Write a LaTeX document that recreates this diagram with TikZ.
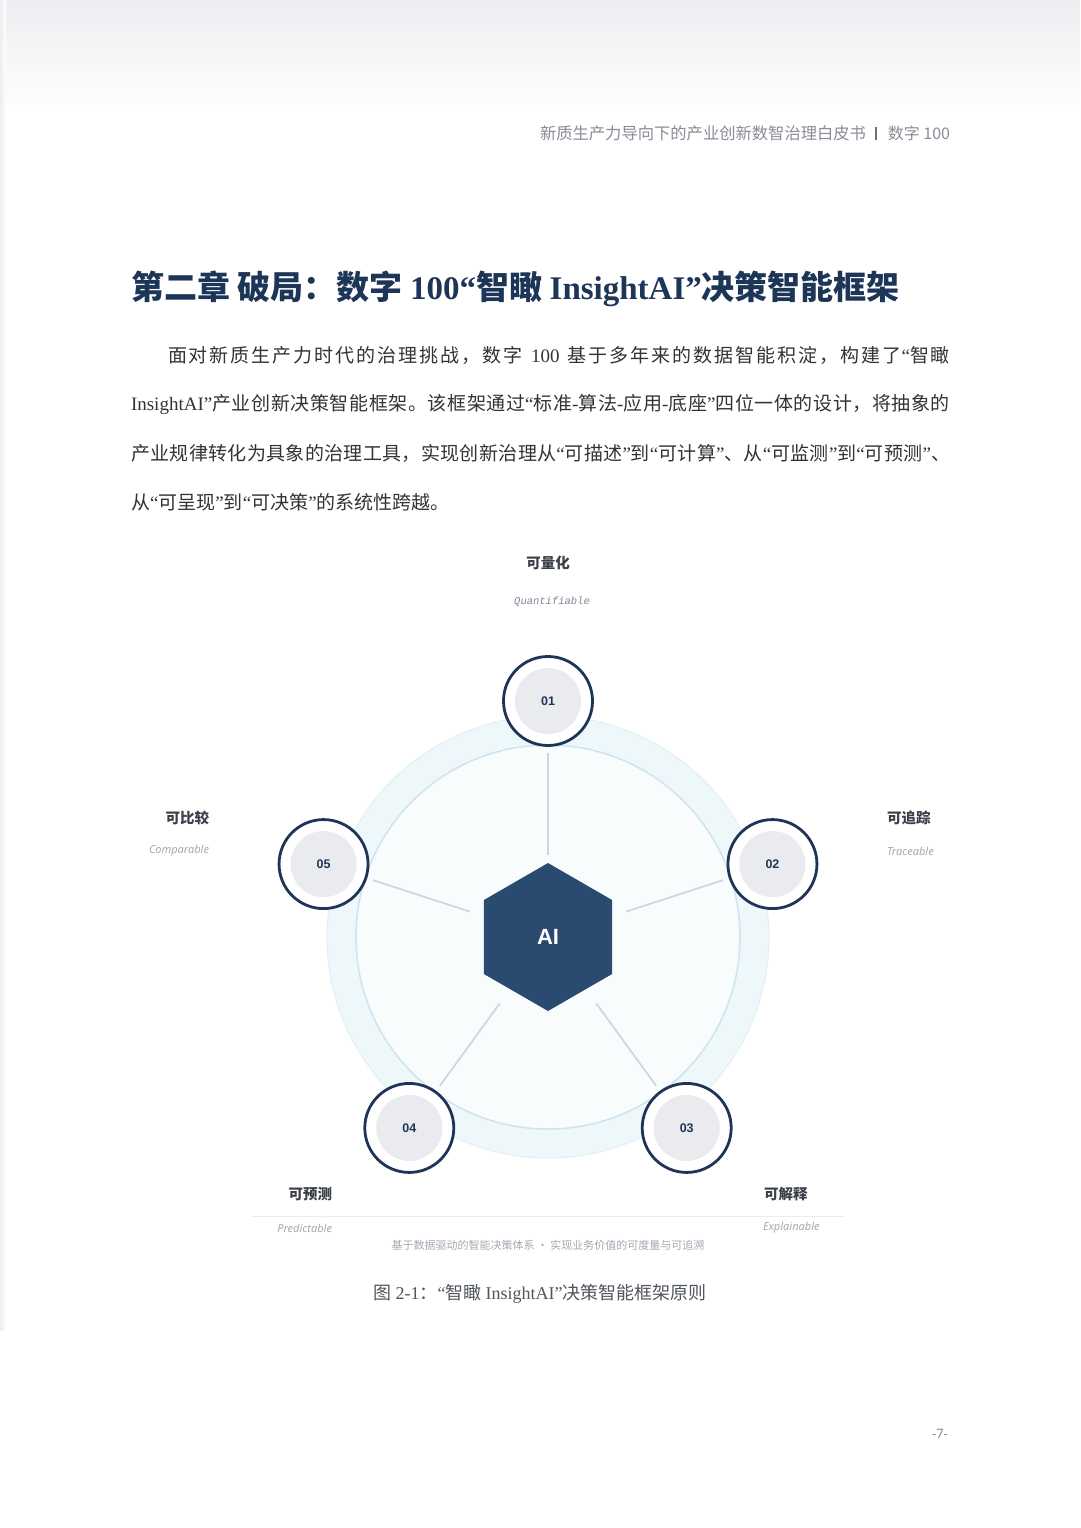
\documentclass[tikz,border=0pt]{standalone}
\usepackage{fontspec}
\setmainfont{Noto Sans CJK SC}
\newfontfamily\en{Liberation Serif}
\newfontfamily\ensans{Noto Sans}
\newfontfamily\ensansb{Liberation Sans}
\newfontfamily\enmono{Liberation Mono}
\usetikzlibrary{shapes.geometric,calc}
% inter-character glue between CJK characters (for justified lines)
\XeTeXinterchartokenstate=1
\newXeTeXintercharclass\zhcls
\makeatletter
\count@="4E00
\loop
  \XeTeXcharclass\count@=\zhcls
  \ifnum\count@<"9FFF \advance\count@ by 1
\repeat
\makeatother
\XeTeXcharclass"FF0C=\zhcls
\XeTeXcharclass"3002=\zhcls
\XeTeXcharclass"FF1A=\zhcls
\XeTeXcharclass"3001=\zhcls
\XeTeXinterchartoks\zhcls\zhcls={\hskip 0pt plus 1pt\relax}
\newcommand\myql{{\en “}}
\newcommand\myqr{{\en ”}}
\definecolor{navy}{HTML}{1F3558}
\definecolor{hexcol}{HTML}{2B4A6F}
\definecolor{titlecol}{HTML}{1D3658}
\definecolor{bandcol}{HTML}{EEF7FA}
\definecolor{bandedge}{HTML}{E2F0F5}
\definecolor{disccol}{HTML}{F9FCFD}
\definecolor{discedge}{HTML}{CDE5ED}
\definecolor{spokecol}{HTML}{C9D9E3}
\definecolor{innercol}{HTML}{E9EBEF}
\definecolor{hdrcol}{HTML}{878C96}
\definecolor{bodycol}{HTML}{333333}
\definecolor{labcol}{HTML}{3B4049}
\definecolor{subcol}{HTML}{A3A9B3}
\definecolor{monocol}{HTML}{7F8899}
\definecolor{capcol}{HTML}{50555D}
\definecolor{topgray}{HTML}{EDEEF1}
\begin{document}
\begin{tikzpicture}[x=1pt,y=-1pt,
  txt/.style={inner sep=0pt, outer sep=0pt},
  bodyline/.style={txt, anchor=west, text=bodycol, font=\fontsize{19}{19}\selectfont},
  numnode/.style={circle, minimum size=89pt, inner sep=0pt, draw=navy, line width=2.8pt, fill=white,
     text=navy, font=\ensansb\bfseries\fontsize{12.5}{12.5}\selectfont,
     path picture={\fill[innercol] (path picture bounding box.center) circle (33pt);}},
  zhlab/.style={txt, text=labcol, font=\bfseries\fontsize{14.5}{14.5}\selectfont},
  enlab/.style={txt, text=subcol, font=\ensans\itshape\fontsize{11}{11}\selectfont},
  spoke/.style={draw=spokecol, line width=1.8pt}
]
\useasboundingbox (0,0) rectangle (1080,1528);
\fill[white] (0,0) rectangle (1080,1528);
\fill[top color=topgray, bottom color=white] (0,0) rectangle (1080,115);
\fill[left color=topgray, right color=white] (0,0) rectangle (6,1330);

% header
\node[txt, anchor=east, text=hdrcol, font=\fontsize{16}{16}\selectfont] (hdr2) at (950,133) {数字 100};
\node[txt, anchor=east, text=hdrcol, font=\fontsize{16.3}{16.3}\selectfont] (hdr1) at (866,133) {新质生产力导向下的产业创新数智治理白皮书};
\coordinate (bartop) at (876,127);
\coordinate (barbot) at (876,140);
\draw[line width=1.6pt, draw=hdrcol!80!black] (bartop) -- (barbot);

% title
\node[txt, anchor=west, text=titlecol, font=\bfseries\fontsize{33}{33}\selectfont] (title) at (131,289)
  {第二章 破局：数字 {\en 100}\myql 智瞰 {\en InsightAI}\myqr 决策智能框架};

% body
\node[bodyline] (l1) at (168,355) {\makebox[782pt][s]{面对新质生产力时代的治理挑战，数字\ {\en 100}\ 基于多年来的数据智能积淀，构建了\myql 智瞰}};
\node[bodyline] (l2) at (131,404) {\makebox[819pt][s]{{\en InsightAI}\myqr 产业创新决策智能框架。该框架通过\myql 标准{\en -}算法{\en -}应用{\en -}底座\myqr 四位一体的设计，将抽象的}};
\node[bodyline] (l3) at (131,453) {\makebox[819pt][s]{产业规律转化为具象的治理工具，实现创新治理从\myql 可描述\myqr 到\myql 可计算\myqr 、从\myql 可监测\myqr 到\myql 可预测\myqr 、}};
\node[bodyline] (l4) at (131,502) {从\myql 可呈现\myqr 到\myql 可决策\myqr 的系统性跨越。};

% diagram
\coordinate (c) at (548,937);
\fill[bandcol] (c) circle (221pt);
\draw[bandedge, line width=1pt] (c) circle (221pt);
\fill[disccol] (c) circle (192pt);
\draw[discedge, line width=1.5pt] (c) circle (192pt);

\node[regular polygon, regular polygon sides=6, shape border rotate=30, minimum size=148pt, inner sep=0pt,
      fill=hexcol, text=white, font=\ensansb\bfseries\fontsize{22}{22}\selectfont] (ai) at (c) {AI};

\node[numnode] (n1) at ($(c)+(90:236pt)$) {01};
\node[numnode] (n2) at ($(c)+(18:236pt)$) {02};
\node[numnode] (n3) at ($(c)+(-54:236pt)$) {03};
\node[numnode] (n4) at ($(c)+(-126:236pt)$) {04};
\node[numnode] (n5) at ($(c)+(162:236pt)$) {05};

\foreach \n in {n1,n2,n3,n4,n5}{
  \draw[spoke] ($(ai.center)!82pt!(\n.center)$) -- ($(ai.center)!184pt!(\n.center)$);
}

% labels
\node[zhlab] (q1) at (548,563) {可量化};
\node[txt, text=monocol, font=\enmono\itshape\fontsize{10.5}{10.5}\selectfont] (q2) at (552,602) {Quantifiable};

\node[zhlab, anchor=east] (c1) at (209,818) {可比较};
\node[enlab, anchor=east] (c2) at (209,851) {Comparable};

\node[zhlab, anchor=west] (t1) at (887,818) {可追踪};
\node[enlab, anchor=west] (t2) at (887,851) {Traceable};

\node[zhlab, anchor=east] (p1) at (332,1194) {可预测};
\node[enlab, anchor=east] (p2) at (332,1228) {Predictable};

\node[zhlab, anchor=west] (e1) at (764,1194) {可解释};
\node[enlab, anchor=west] (e2) at (763,1228) {Explainable};

\coordinate (sepl) at (252,1216);
\coordinate (sepr) at (845,1216);
\draw[draw=black!8, line width=0.8pt] (sepl) -- (sepr);

\node[txt, text=subcol, font=\fontsize{11}{11}\selectfont] (foot) at (548,1245)
  {基于数据驱动的智能决策体系 · 实现业务价值的可度量与可追溯};

% caption
\node[txt, text=capcol, font=\fontsize{18}{18}\selectfont] (cap) at (540,1294)
  {图 {\en 2-1}：\myql 智瞰 {\en InsightAI}\myqr 决策智能框架原则};

% page number
\node[txt, text=hdrcol, font=\ensans\fontsize{13}{13}\selectfont] (pg) at (940,1434) {-7-};
\end{tikzpicture}
\end{document}
